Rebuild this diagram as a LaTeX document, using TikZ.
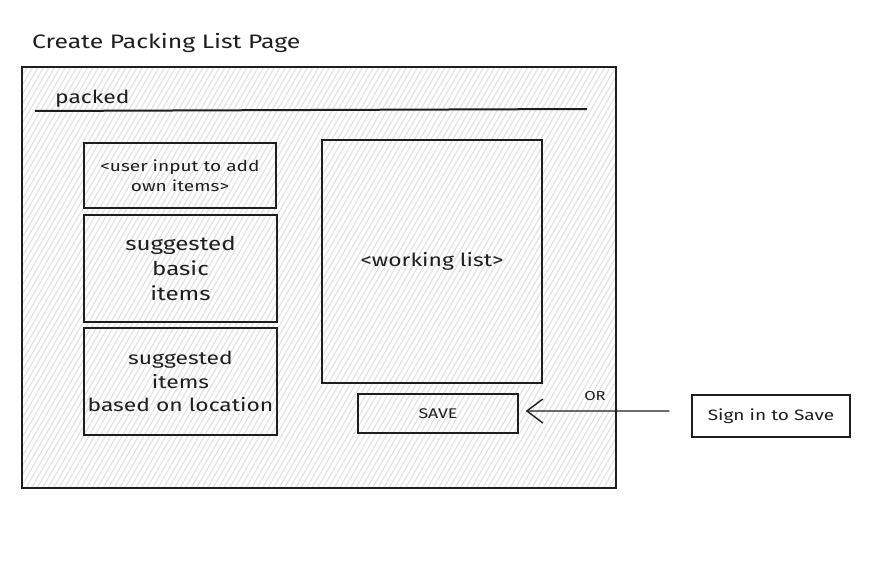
\documentclass[tikz,border=0pt]{standalone}
\usepackage{fontspec}
\setmainfont[FakeStretch=1.27]{Fira Sans}
\usetikzlibrary{arrows.meta}
\definecolor{ink}{HTML}{1E1E1E}
\definecolor{hatch}{HTML}{E2E2E2}
\newcommand{\fsz}[1]{\fontsize{#1bp}{1.32\dimexpr#1bp\relax}\selectfont}
\tikzset{
  ink/.style={draw=ink, line width=1.4bp},
  box/.style={ink, rectangle, inner sep=0pt, align=center, text=ink},
  lbl/.style={text=ink, inner sep=0pt},
}
\begin{document}
\begin{tikzpicture}[x=1bp, y=-1bp]
\useasboundingbox (0,0) rectangle (871,583);

% page frame with diagonal hatching
\begin{scope}
  \clip (22,67) rectangle (616,488);
  \foreach \x in {-300,-294.5,...,640}
    \draw[hatch, line width=1.2bp] (\x,500) -- ++(289,-500);
\end{scope}
\draw[ink] (22,67) rectangle (616,488);

% title
\node[lbl, anchor=base west, font=\fsz{19.5}] (title) at (32,49) {Create Packing List Page};

% header
\node[lbl, anchor=base west, font=\fsz{18}] (packed) at (55,104) {packed};
\coordinate (ulA) at (35,111);
\coordinate (ulB) at (587,109);
\draw[ink, line width=2bp] (ulA) -- (ulB);

% left column
\node[box, minimum width=192bp, minimum height=65bp, font=\fsz{15}] (userin) at (180,175.5)
  {\textless user input to add\\own items\textgreater};
\node[box, minimum width=193bp, minimum height=107bp, font=\fsz{19}] (basic) at (180.5,268.5)
  {suggested\\basic\\items};
\node[box, minimum width=193bp, minimum height=107bp, font=\fsz{18}] (loc) at (180.5,381.5)
  {suggested\\items\\based on location};

% right column
\node[box, minimum width=220bp, minimum height=243bp, font=\fsz{18}] (work) at (432,261.5)
  {\textless working list\textgreater};
\node[box, minimum width=160bp, minimum height=39bp, font=\fsz{14}] (save) at (438,413.5)
  {SAVE};

% sign-in alternative
\node[box, minimum width=158bp, minimum height=42bp, font=\fsz{15}] (sign) at (771,416)
  {Sign in to Save};
\draw[ink, -{Straight Barb[length=16bp, width=24bp]}, shorten <=22bp, shorten >=7bp]
  ([yshift=5bp]sign.west) -- ([yshift=2.5bp]save.east);
\node[lbl, font=\fsz{13}] (or) at (595,396) {OR};
\end{tikzpicture}
\end{document}
